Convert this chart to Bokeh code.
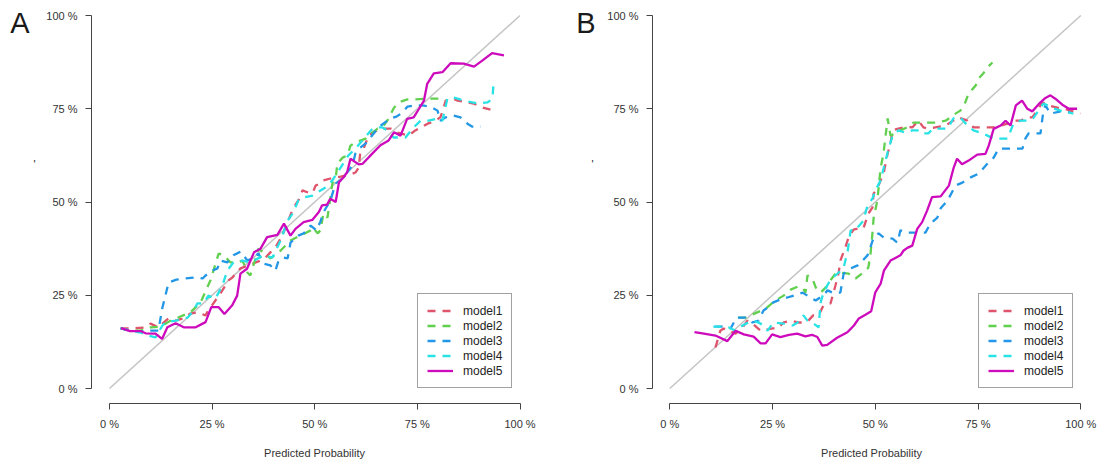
from bokeh.plotting import figure
from bokeh.layouts import row
from bokeh.models import Range1d, FixedTicker, Legend, LegendItem, LinearAxis
from bokeh.embed import file_html
from bokeh.resources import INLINE

# ---------------- data ----------------
model_names = ["model1", "model2", "model3", "model4", "model5"]
model_colors = ["#DF536B", "#61D04F", "#2297E6", "#28E2E5", "#CD0BBC"]
model_dashes = ["8 7", "8 7", "8 7", "8 7", "solid"]
tick_values = [0, 0.25, 0.5, 0.75, 1]
tick_labels = ["0 %", "25 %", "50 %", "75 %", "100 %"]
x_title = "Predicted Probability"
y_title = "'"
panel_letters = ["A", "B"]

# Panel A
a_m1_p = [0.027, 0.044, 0.058, 0.088, 0.100, 0.119, 0.129, 0.144, 0.161, 0.180, 0.197, 0.214, 0.234, 0.239, 0.258, 0.275, 0.290, 0.300, 0.319, 0.339, 0.356, 0.368, 0.380, 0.392, 0.404, 0.421, 0.448, 0.460, 0.470, 0.485, 0.495, 0.502, 0.514, 0.521, 0.538, 0.563, 0.587, 0.599, 0.607, 0.611, 0.619, 0.631, 0.641, 0.660, 0.685, 0.702, 0.728, 0.745, 0.758, 0.775, 0.794, 0.806, 0.814, 0.819, 0.836, 0.848, 0.872, 0.887, 0.909, 0.928]
a_m1_q = [0.161, 0.161, 0.161, 0.164, 0.174, 0.164, 0.174, 0.188, 0.182, 0.188, 0.201, 0.204, 0.196, 0.206, 0.236, 0.263, 0.290, 0.298, 0.322, 0.330, 0.338, 0.343, 0.351, 0.365, 0.378, 0.410, 0.485, 0.504, 0.531, 0.525, 0.525, 0.544, 0.550, 0.558, 0.563, 0.568, 0.574, 0.579, 0.592, 0.633, 0.643, 0.678, 0.686, 0.697, 0.697, 0.686, 0.678, 0.692, 0.700, 0.710, 0.718, 0.727, 0.753, 0.772, 0.777, 0.772, 0.767, 0.764, 0.753, 0.748]

a_m2_p = [0.027, 0.051, 0.076, 0.100, 0.124, 0.149, 0.173, 0.197, 0.222, 0.246, 0.266, 0.278, 0.295, 0.312, 0.324, 0.336, 0.343, 0.363, 0.375, 0.392, 0.417, 0.441, 0.465, 0.490, 0.495, 0.507, 0.514, 0.521, 0.531, 0.543, 0.551, 0.555, 0.568, 0.580, 0.587, 0.599, 0.624, 0.653, 0.665, 0.680, 0.692, 0.704, 0.726, 0.741, 0.775, 0.801, 0.814]
a_m2_q = [0.161, 0.155, 0.155, 0.164, 0.166, 0.182, 0.193, 0.204, 0.231, 0.290, 0.362, 0.357, 0.338, 0.338, 0.343, 0.311, 0.303, 0.375, 0.365, 0.349, 0.370, 0.397, 0.410, 0.424, 0.432, 0.416, 0.424, 0.469, 0.458, 0.550, 0.563, 0.603, 0.619, 0.625, 0.651, 0.660, 0.670, 0.697, 0.700, 0.724, 0.751, 0.767, 0.775, 0.775, 0.777, 0.777, 0.777]

a_m3_p = [0.027, 0.051, 0.076, 0.100, 0.119, 0.129, 0.144, 0.163, 0.185, 0.214, 0.227, 0.234, 0.251, 0.263, 0.270, 0.287, 0.302, 0.319, 0.336, 0.351, 0.363, 0.375, 0.392, 0.404, 0.412, 0.424, 0.434, 0.441, 0.460, 0.473, 0.490, 0.504, 0.514, 0.521, 0.538, 0.551, 0.563, 0.582, 0.592, 0.599, 0.611, 0.624, 0.636, 0.655, 0.667, 0.685, 0.699, 0.714, 0.726, 0.745, 0.762, 0.782, 0.799, 0.806, 0.819, 0.836, 0.855, 0.872, 0.884, 0.904]
a_m3_q = [0.161, 0.155, 0.153, 0.155, 0.155, 0.217, 0.284, 0.292, 0.295, 0.298, 0.295, 0.303, 0.316, 0.322, 0.343, 0.338, 0.357, 0.367, 0.343, 0.351, 0.362, 0.335, 0.330, 0.316, 0.343, 0.351, 0.349, 0.391, 0.410, 0.416, 0.437, 0.424, 0.448, 0.472, 0.504, 0.550, 0.558, 0.584, 0.598, 0.630, 0.646, 0.657, 0.673, 0.700, 0.710, 0.724, 0.729, 0.740, 0.756, 0.759, 0.759, 0.756, 0.745, 0.718, 0.727, 0.732, 0.727, 0.710, 0.702, 0.702]

a_m4_p = [0.027, 0.051, 0.076, 0.093, 0.112, 0.129, 0.136, 0.161, 0.190, 0.205, 0.214, 0.229, 0.241, 0.258, 0.275, 0.287, 0.302, 0.324, 0.343, 0.375, 0.397, 0.417, 0.434, 0.446, 0.460, 0.473, 0.495, 0.514, 0.526, 0.543, 0.555, 0.563, 0.582, 0.599, 0.616, 0.641, 0.655, 0.665, 0.677, 0.692, 0.709, 0.721, 0.738, 0.758, 0.777, 0.799, 0.811, 0.823, 0.838, 0.848, 0.863, 0.884, 0.899, 0.921, 0.933, 0.935, 0.940]
a_m4_q = [0.161, 0.155, 0.150, 0.142, 0.137, 0.169, 0.177, 0.182, 0.190, 0.209, 0.228, 0.228, 0.249, 0.241, 0.276, 0.316, 0.338, 0.343, 0.338, 0.357, 0.351, 0.397, 0.450, 0.469, 0.504, 0.512, 0.517, 0.531, 0.539, 0.558, 0.579, 0.592, 0.625, 0.643, 0.665, 0.697, 0.700, 0.700, 0.692, 0.673, 0.673, 0.673, 0.697, 0.718, 0.718, 0.724, 0.718, 0.777, 0.780, 0.777, 0.772, 0.767, 0.764, 0.767, 0.777, 0.812, 0.826]

a_m5_p = [0.028, 0.050, 0.076, 0.088, 0.112, 0.128, 0.141, 0.161, 0.181, 0.210, 0.234, 0.248, 0.266, 0.280, 0.299, 0.311, 0.319, 0.335, 0.352, 0.368, 0.384, 0.409, 0.425, 0.441, 0.453, 0.473, 0.494, 0.510, 0.518, 0.530, 0.538, 0.551, 0.559, 0.571, 0.579, 0.587, 0.607, 0.616, 0.636, 0.660, 0.680, 0.693, 0.709, 0.725, 0.741, 0.754, 0.766, 0.774, 0.790, 0.811, 0.831, 0.863, 0.888, 0.908, 0.932, 0.961]
a_m5_q = [0.162, 0.154, 0.154, 0.148, 0.147, 0.133, 0.164, 0.175, 0.164, 0.164, 0.178, 0.218, 0.218, 0.200, 0.223, 0.249, 0.308, 0.321, 0.365, 0.375, 0.406, 0.412, 0.442, 0.410, 0.428, 0.446, 0.452, 0.473, 0.491, 0.493, 0.509, 0.500, 0.553, 0.567, 0.580, 0.616, 0.601, 0.602, 0.625, 0.652, 0.665, 0.687, 0.678, 0.723, 0.727, 0.750, 0.772, 0.817, 0.845, 0.848, 0.872, 0.871, 0.863, 0.879, 0.899, 0.893]

# Panel B
b_m1_p = [0.111, 0.123, 0.131, 0.143, 0.160, 0.177, 0.189, 0.201, 0.221, 0.250, 0.262, 0.277, 0.294, 0.311, 0.325, 0.337, 0.349, 0.362, 0.374, 0.391, 0.403, 0.411, 0.415, 0.427, 0.435, 0.447, 0.457, 0.471, 0.483, 0.493, 0.496, 0.505, 0.513, 0.520, 0.530, 0.537, 0.542, 0.556, 0.578, 0.590, 0.598, 0.605, 0.617, 0.627, 0.646, 0.671, 0.702, 0.724, 0.739, 0.756, 0.773, 0.788, 0.805, 0.822, 0.836, 0.853, 0.870, 0.882, 0.907, 0.921, 0.943, 0.958, 0.975, 0.999]
b_m1_q = [0.110, 0.155, 0.161, 0.155, 0.147, 0.164, 0.182, 0.174, 0.155, 0.161, 0.161, 0.177, 0.182, 0.177, 0.177, 0.182, 0.196, 0.196, 0.223, 0.228, 0.276, 0.311, 0.343, 0.378, 0.405, 0.426, 0.429, 0.429, 0.469, 0.485, 0.523, 0.536, 0.558, 0.576, 0.630, 0.657, 0.692, 0.697, 0.702, 0.700, 0.710, 0.718, 0.700, 0.697, 0.700, 0.705, 0.727, 0.718, 0.700, 0.700, 0.700, 0.700, 0.705, 0.710, 0.718, 0.718, 0.727, 0.727, 0.767, 0.759, 0.753, 0.751, 0.745, 0.737]

b_m2_p = [0.167, 0.184, 0.233, 0.257, 0.277, 0.294, 0.311, 0.323, 0.330, 0.335, 0.347, 0.355, 0.367, 0.384, 0.391, 0.403, 0.411, 0.435, 0.452, 0.471, 0.483, 0.488, 0.493, 0.496, 0.505, 0.513, 0.520, 0.530, 0.537, 0.549, 0.561, 0.581, 0.593, 0.603, 0.627, 0.646, 0.671, 0.683, 0.695, 0.707, 0.719, 0.727, 0.744, 0.751, 0.763, 0.773, 0.785]
b_m2_q = [0.190, 0.190, 0.214, 0.236, 0.249, 0.265, 0.273, 0.271, 0.257, 0.303, 0.295, 0.271, 0.257, 0.276, 0.290, 0.308, 0.311, 0.308, 0.295, 0.311, 0.324, 0.357, 0.416, 0.458, 0.504, 0.592, 0.630, 0.724, 0.678, 0.684, 0.692, 0.702, 0.713, 0.713, 0.713, 0.713, 0.718, 0.727, 0.737, 0.745, 0.767, 0.791, 0.812, 0.831, 0.845, 0.861, 0.874]

b_m3_p = [0.109, 0.128, 0.148, 0.162, 0.184, 0.201, 0.216, 0.228, 0.238, 0.252, 0.274, 0.286, 0.311, 0.323, 0.342, 0.355, 0.372, 0.384, 0.396, 0.415, 0.423, 0.440, 0.457, 0.469, 0.481, 0.488, 0.496, 0.508, 0.520, 0.542, 0.554, 0.561, 0.578, 0.590, 0.622, 0.634, 0.651, 0.659, 0.676, 0.695, 0.712, 0.732, 0.751, 0.773, 0.788, 0.800, 0.817, 0.836, 0.858, 0.865, 0.873, 0.882, 0.902, 0.909, 0.914, 0.926, 0.951, 0.975]
b_m3_q = [0.166, 0.166, 0.161, 0.190, 0.190, 0.177, 0.182, 0.209, 0.217, 0.231, 0.241, 0.244, 0.252, 0.257, 0.244, 0.236, 0.249, 0.263, 0.257, 0.257, 0.308, 0.322, 0.330, 0.343, 0.357, 0.378, 0.405, 0.416, 0.405, 0.402, 0.391, 0.424, 0.418, 0.418, 0.418, 0.442, 0.458, 0.483, 0.504, 0.544, 0.552, 0.566, 0.576, 0.603, 0.619, 0.643, 0.643, 0.643, 0.643, 0.670, 0.684, 0.684, 0.684, 0.745, 0.759, 0.737, 0.743, 0.740]

b_m4_p = [0.106, 0.136, 0.143, 0.160, 0.177, 0.191, 0.204, 0.221, 0.238, 0.252, 0.277, 0.299, 0.311, 0.325, 0.335, 0.350, 0.362, 0.367, 0.374, 0.386, 0.398, 0.411, 0.423, 0.433, 0.440, 0.452, 0.457, 0.471, 0.481, 0.493, 0.500, 0.513, 0.520, 0.530, 0.542, 0.556, 0.573, 0.590, 0.603, 0.610, 0.629, 0.641, 0.659, 0.676, 0.690, 0.707, 0.724, 0.739, 0.756, 0.773, 0.788, 0.805, 0.822, 0.836, 0.853, 0.870, 0.884, 0.902, 0.909, 0.919, 0.933, 0.951, 0.982]
b_m4_q = [0.166, 0.166, 0.164, 0.155, 0.169, 0.177, 0.182, 0.174, 0.155, 0.177, 0.174, 0.169, 0.177, 0.196, 0.182, 0.174, 0.164, 0.231, 0.257, 0.282, 0.298, 0.311, 0.324, 0.370, 0.424, 0.424, 0.432, 0.450, 0.491, 0.509, 0.531, 0.558, 0.590, 0.633, 0.678, 0.692, 0.686, 0.692, 0.692, 0.684, 0.684, 0.697, 0.697, 0.697, 0.724, 0.727, 0.705, 0.692, 0.686, 0.678, 0.670, 0.670, 0.670, 0.710, 0.718, 0.718, 0.724, 0.753, 0.764, 0.759, 0.751, 0.745, 0.737]

b_m5_p = [0.060, 0.083, 0.111, 0.140, 0.160, 0.180, 0.204, 0.221, 0.233, 0.249, 0.269, 0.290, 0.310, 0.330, 0.346, 0.359, 0.371, 0.383, 0.407, 0.432, 0.448, 0.460, 0.476, 0.490, 0.500, 0.513, 0.521, 0.537, 0.549, 0.561, 0.569, 0.578, 0.590, 0.602, 0.614, 0.626, 0.638, 0.659, 0.679, 0.691, 0.699, 0.711, 0.727, 0.748, 0.768, 0.776, 0.788, 0.805, 0.817, 0.829, 0.842, 0.857, 0.870, 0.882, 0.898, 0.914, 0.926, 0.938, 0.955, 0.971, 0.991]
b_m5_q = [0.151, 0.147, 0.142, 0.127, 0.155, 0.145, 0.139, 0.121, 0.121, 0.145, 0.138, 0.144, 0.147, 0.140, 0.144, 0.138, 0.115, 0.117, 0.136, 0.151, 0.169, 0.188, 0.198, 0.207, 0.258, 0.281, 0.316, 0.343, 0.350, 0.357, 0.370, 0.377, 0.383, 0.428, 0.446, 0.477, 0.513, 0.515, 0.544, 0.593, 0.616, 0.601, 0.611, 0.627, 0.629, 0.651, 0.696, 0.705, 0.718, 0.705, 0.759, 0.772, 0.750, 0.743, 0.763, 0.779, 0.786, 0.777, 0.761, 0.750, 0.750]

panel_a = [(a_m1_p, a_m1_q), (a_m2_p, a_m2_q), (a_m3_p, a_m3_q), (a_m4_p, a_m4_q), (a_m5_p, a_m5_q)]
panel_b = [(b_m1_p, b_m1_q), (b_m2_p, b_m2_q), (b_m3_p, b_m3_q), (b_m4_p, b_m4_q), (b_m5_p, b_m5_q)]

FONT = "Liberation Sans"


def text_axis(tick, label, size, standoff):
    """A bare left axis used only to place one piece of text beside the panel."""
    ax = LinearAxis(ticker=FixedTicker(ticks=[tick]),
                    major_label_overrides={tick: label})
    ax.axis_line_color = None
    ax.major_tick_line_color = None
    ax.minor_tick_line_color = None
    ax.major_tick_out = 0
    ax.major_tick_in = 0
    ax.major_label_standoff = standoff
    ax.major_label_text_font = FONT
    ax.major_label_text_font_size = size
    ax.major_label_text_color = "#1a1a1a"
    ax.major_label_orientation = "horizontal"
    return ax


def make_panel(series, letter, width, border_left, border_right, x_start, x_end,
               mark_standoff, letter_standoff):
    p = figure(width=width, height=465, output_backend="svg", toolbar_location=None,
               x_range=Range1d(x_start, x_end), y_range=Range1d(-0.0402, 1.0188),
               min_border_left=border_left, min_border_right=border_right,
               min_border_top=8, min_border_bottom=62)
    p.outline_line_color = None
    p.background_fill_color = "white"
    p.border_fill_color = "white"
    p.xgrid.visible = False
    p.ygrid.visible = False

    for ax in (p.xaxis[0], p.yaxis[0]):
        ax.ticker = FixedTicker(ticks=tick_values)
        ax.major_label_overrides = {v: t for v, t in zip(tick_values, tick_labels)}
        ax.bounds = (0, 1)
        ax.axis_line_color = "#444444"
        ax.major_tick_line_color = "#444444"
        ax.minor_tick_line_color = None
        ax.major_tick_out = 6
        ax.major_tick_in = 0
        ax.major_label_text_font = FONT
        ax.major_label_text_font_size = "11px"
        ax.major_label_text_color = "#333333"
    p.xaxis[0].major_label_standoff = 8
    p.yaxis[0].major_label_standoff = 8
    p.yaxis[0].major_label_orientation = "horizontal"
    p.xaxis[0].axis_label = x_title
    p.xaxis[0].axis_label_text_font = FONT
    p.xaxis[0].axis_label_text_font_size = "11px"
    p.xaxis[0].axis_label_text_font_style = "normal"
    p.xaxis[0].axis_label_text_color = "#333333"
    p.xaxis[0].axis_label_standoff = 14

    # small y title mark and panel letter, placed beside the y axis
    p.add_layout(text_axis(0.603, y_title, "11px", mark_standoff), "left")
    p.add_layout(text_axis(0.980, letter, "29px", letter_standoff), "left")

    p.line([0, 1], [0, 1], line_color="#c4c4c4", line_width=1.5)

    items = []
    for (xs, ys), name, col, dash in zip(series, model_names, model_colors, model_dashes):
        r = p.line(xs, ys, line_color=col, line_width=2.3, line_dash=dash)
        items.append(LegendItem(label=name, renderers=[r]))

    leg = Legend(items=items, location=(326, 15), margin=0, padding=9, spacing=0,
                 glyph_width=26, glyph_height=15, label_height=15, label_standoff=10,
                 label_text_font=FONT, label_text_font_size="12px", label_text_color="#222222",
                 border_line_color="#444444", border_line_width=1,
                 background_fill_color="white", background_fill_alpha=1.0)
    p.add_layout(leg)
    return p


pa = make_panel(panel_a, panel_letters[0], 570, 91, 33, -0.0438, 1.0426, 8, 1)
pb = make_panel(panel_b, panel_letters[1], 532, 82, 12, -0.0421, 1.0236, 11, -7)

layout = row(pa, pb)
open("out.html", "w").write(file_html(layout, INLINE))
